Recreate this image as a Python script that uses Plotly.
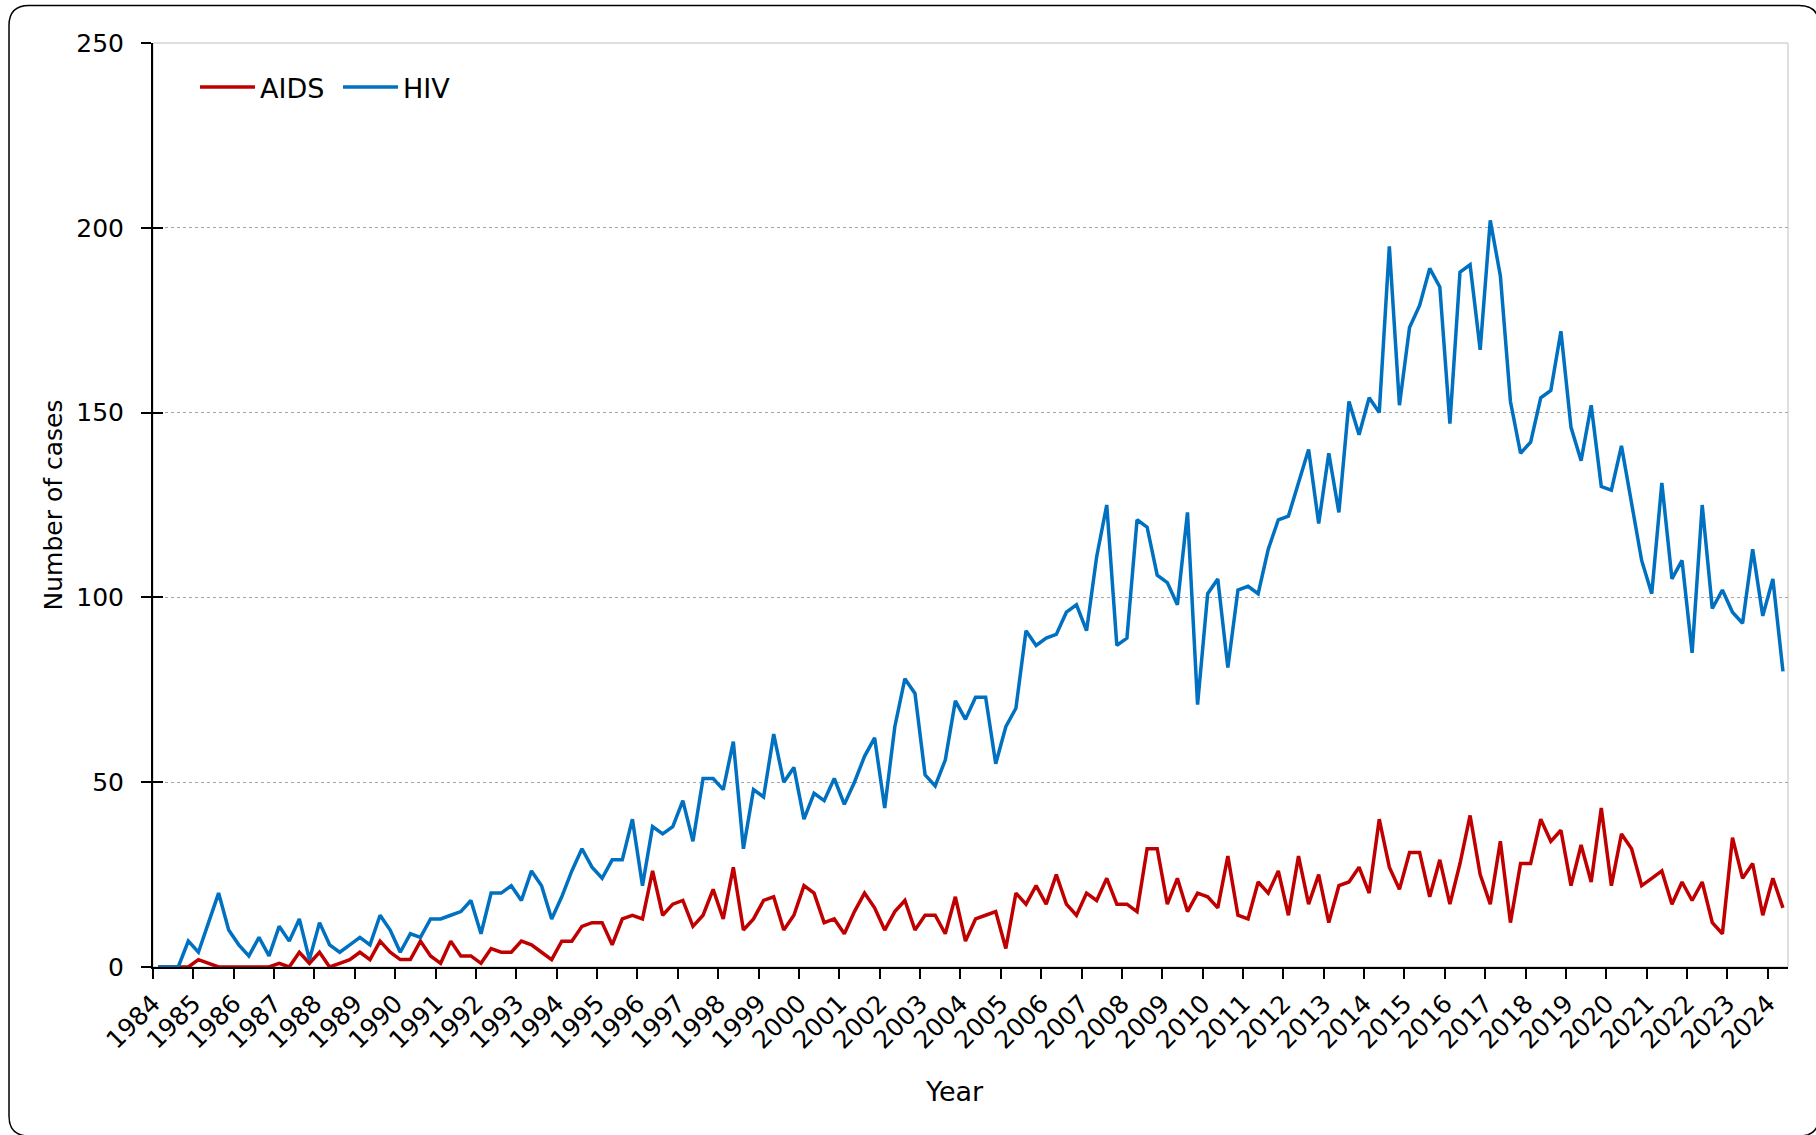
import plotly.graph_objects as go

# ---------------- data ----------------
years = list(range(1984, 2025))
quarters = [1, 2, 3, 4]

hiv = [0, 0, 0, 7, 4, 12, 20, 10, 6, 3, 8, 3, 11, 7, 13, 2, 12, 6, 4, 6,
       8, 6, 14, 10, 4, 9, 8, 13, 13,
       14, 15, 18, 9, 20, 20, 22, 18, 26, 22, 13, 19, 26, 32, 27, 24, 29, 29,
       40, 22, 38, 36, 38, 45, 34, 51, 51,
       48, 61, 32, 48, 46, 63, 50, 54, 40, 47, 45, 51, 44, 50, 57, 62, 43, 65,
       78, 74, 52, 49, 56, 72, 67, 73, 73, 55,
       65, 70, 91, 87, 89, 90, 96, 98, 91, 111, 125, 87, 89, 121, 119, 106,
       104, 98, 123, 71, 101, 105, 81, 102, 103, 101, 113, 121,
       122, 131, 140, 120, 139, 123, 153, 144, 154, 150, 195, 152, 173, 179,
       189, 184, 147, 188, 190, 167, 202, 187, 153, 139, 142, 154, 156, 172,
       146, 137, 152, 130, 129, 141, 125, 110, 101, 131, 105, 110, 85, 125,
       97, 102, 96, 93, 113, 95, 105, 80]

aids = [0, 0, 0, 0, 2, 1, 0, 0, 0, 0, 0, 0, 1, 0, 4, 1, 4, 0, 1, 2,
        4, 2, 7, 4, 2, 2, 7, 3, 1,
        7, 3, 3, 1, 5, 4, 4, 7, 6, 4, 2, 7, 7, 11, 12, 12, 6, 13,
        14, 13, 26, 14, 17, 18, 11, 14, 21,
        13, 27, 10, 13, 18, 19, 10, 14, 22, 20, 12, 13, 9, 15, 20, 16, 10, 15,
        18, 10, 14, 14, 9, 19, 7, 13, 14, 15,
        5, 20, 17, 22, 17, 25, 17, 14, 20, 18, 24, 17, 17, 15, 32, 32,
        17, 24, 15, 20, 19, 16, 30, 14, 13, 23, 20, 26,
        14, 30, 17, 25, 12, 22, 23, 27, 20, 40, 27, 21, 31, 31,
        19, 29, 17, 28, 41, 25, 17, 34, 12, 28, 28, 40, 34, 37,
        22, 33, 23, 43, 22, 36, 32, 22, 24, 26, 17, 23, 18, 23,
        12, 9, 35, 24, 28, 14, 24, 16]

periods = [(y, q) for y in years for q in quarters][:len(hiv)]
x_pos = [y + (q - 0.5) / 4 for y, q in periods]
period_labels = [f"{y} Q{q}" for y, q in periods]

tick_years = list(range(1984, 2025))
tick_labels = [str(y) for y in tick_years]
y_ticks = [0, 50, 100, 150, 200, 250]

# ---------------- style ----------------
RED = "#C00000"
BLUE = "#0070C0"
FONT = "DejaVu Sans"
W, H = 1816, 1135
ML, MR, MT, MB = 153, 28, 43, 168
PW, PH = W - ML - MR, H - MT - MB


def px(xp):
    return (xp - ML) / PW


def py(yp):
    return (H - MB - yp) / PH


fig = go.Figure()
fig.add_trace(go.Scatter(x=x_pos, y=aids, name="AIDS", mode="lines",
                         customdata=period_labels,
                         hovertemplate="%{customdata}: %{y}<extra>AIDS</extra>",
                         line=dict(color=RED, width=3.5)))
fig.add_trace(go.Scatter(x=x_pos, y=hiv, name="HIV", mode="lines",
                         customdata=period_labels,
                         hovertemplate="%{customdata}: %{y}<extra>HIV</extra>",
                         line=dict(color=BLUE, width=3.5), yaxis="y2"))

# outer rounded frame (pixel geometry converted to paper coords)
L, T, R, B, r = 9, 5.5, 1819, 1136, 20
pts = [
    ("M", (L + r, T)), ("L", (R - r, T)), ("Q", (R, T), (R, T + r)),
    ("L", (R, B - r)), ("Q", (R, B), (R - r, B)), ("L", (L + r, B)),
    ("Q", (L, B), (L, B - r)), ("L", (L, T + r)), ("Q", (L, T), (L + r, T)),
]
path = ""
for cmd, *cs in pts:
    path += cmd + " " + " ".join(f"{px(a):.5f},{py(b):.5f}" for a, b in cs) + " "
path += "Z"

shapes = [
    dict(type="path", path=path, xref="paper", yref="paper",
         line=dict(color="black", width=1.5), layer="below"),
    dict(type="rect", xref="paper", yref="paper", x0=0, x1=1, y0=0, y1=1,
         line=dict(color="#BFBFBF", width=1), layer="below"),
]

fig.update_layout(
    width=W, height=H,
    margin=dict(l=ML, r=MR, t=MT, b=MB, pad=0),
    paper_bgcolor="white", plot_bgcolor="white",
    font=dict(family=FONT, size=25, color="black"),
    showlegend=True,
    legend=dict(orientation="h", x=px(195), y=py(63), xanchor="left",
                yanchor="top", font=dict(size=27), bgcolor="rgba(0,0,0,0)",
                traceorder="normal", itemwidth=55,
                entrywidth=73, entrywidthmode="pixels"),
    xaxis=dict(range=[1984, 2024.5], tickmode="array", tickvals=tick_years,
               ticktext=tick_labels, tickangle=-45, ticks="outside",
               ticklen=10, tickwidth=2, tickcolor="black", showline=True,
               linecolor="black", linewidth=2, showgrid=False, zeroline=False,
               tickfont=dict(size=25)),
    yaxis=dict(range=[0, 250], tickmode="array", tickvals=y_ticks,
               ticks="outside", ticklen=10, tickwidth=2, tickcolor="black",
               showline=True, linecolor="black", linewidth=2,
               showgrid=True, gridcolor="#A6A6A6", griddash="dot",
               gridwidth=1, zeroline=False, tickfont=dict(size=25),
               ticklabelstandoff=12,
               title=dict(text="Number of cases", font=dict(size=25),
                          standoff=7)),
    yaxis2=dict(overlaying="y", side="left", anchor="x", range=[0, 250],
                tickmode="array", tickvals=y_ticks, ticks="inside",
                ticklen=10, tickwidth=2, tickcolor="black",
                showticklabels=False, showgrid=False, zeroline=False,
                showline=False),
    shapes=shapes,
    annotations=[dict(text="Year", xref="paper", yref="paper",
                      x=px(954), y=py(1091), xanchor="center",
                      yanchor="middle", showarrow=False,
                      font=dict(size=27))],
)

fig.write_html("out.html",
               config={"displayModeBar": False},
               post_script="document.body.style.margin='0';"
                           "document.body.style.overflow='hidden';")
